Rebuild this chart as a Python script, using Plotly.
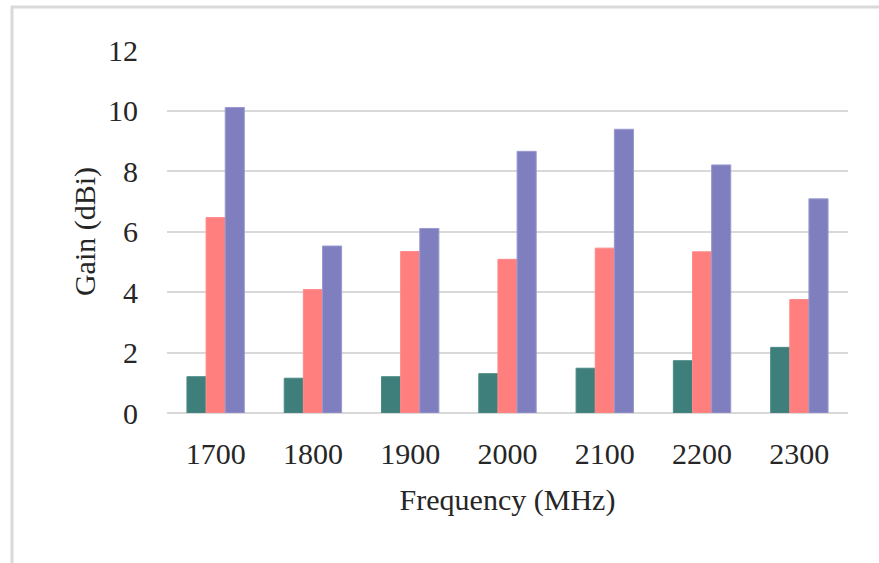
import plotly.graph_objects as go

categories = ["1700", "1800", "1900", "2000", "2100", "2200", "2300"]
series_a = [1.2, 1.15, 1.2, 1.3, 1.48, 1.73, 2.17]
series_b = [6.46, 4.08, 5.34, 5.08, 5.45, 5.33, 3.75]
series_c = [10.1, 5.52, 6.1, 8.65, 9.38, 8.2, 7.08]
y_ticks = [0, 2, 4, 6, 8, 10, 12]

colors = ["#3f7f7b", "#ff7f7f", "#7f7fbf"]
line_colors = ["#4a8a86", "#ff8a8a", "#9a9ad0"]

fig = go.Figure()
for vals, c, lc in zip([series_a, series_b, series_c], colors, line_colors):
    fig.add_trace(go.Bar(x=categories, y=vals, marker=dict(color=c, line=dict(color=lc, width=1))))

tfont = dict(family="Liberation Serif", size=30, color="#262626")
font = dict(family="Liberation Serif", size=30, color="#262626")
fig.update_layout(
    width=879, height=563,
    margin=dict(l=167, r=31, t=50, b=150),
    paper_bgcolor="white", plot_bgcolor="white",
    showlegend=False,
    barmode="group", bargap=0.41, bargroupgap=0,
    font=font,
    xaxis=dict(
        type="category", showgrid=False, showline=False, zeroline=False,
        ticks="", ticklabelstandoff=20, tickfont=tfont,
        title=dict(text="Frequency (MHz)", font=font, standoff=19),
    ),
    yaxis=dict(
        range=[0, 12], tickvals=y_ticks, showgrid=True, gridcolor="#d9d9d9", gridwidth=2,
        zeroline=True, zerolinecolor="#d9d9d9", zerolinewidth=2,
        showline=False, ticks="", ticklabelstandoff=28, tickfont=tfont,
        title=dict(text="Gain (dBi)", font=font, standoff=3),
    ),
)

# outer frame (light gray border of the chart area)
fig.add_shape(type="rect", xref="paper", yref="paper",
              x0=(12 - 167) / 681, x1=1.2, y0=-0.6, y1=(413 - 7) / 363,
              line=dict(color="#d9d9d9", width=3), fillcolor="rgba(0,0,0,0)", layer="below")

fig.write_html("out.html")
